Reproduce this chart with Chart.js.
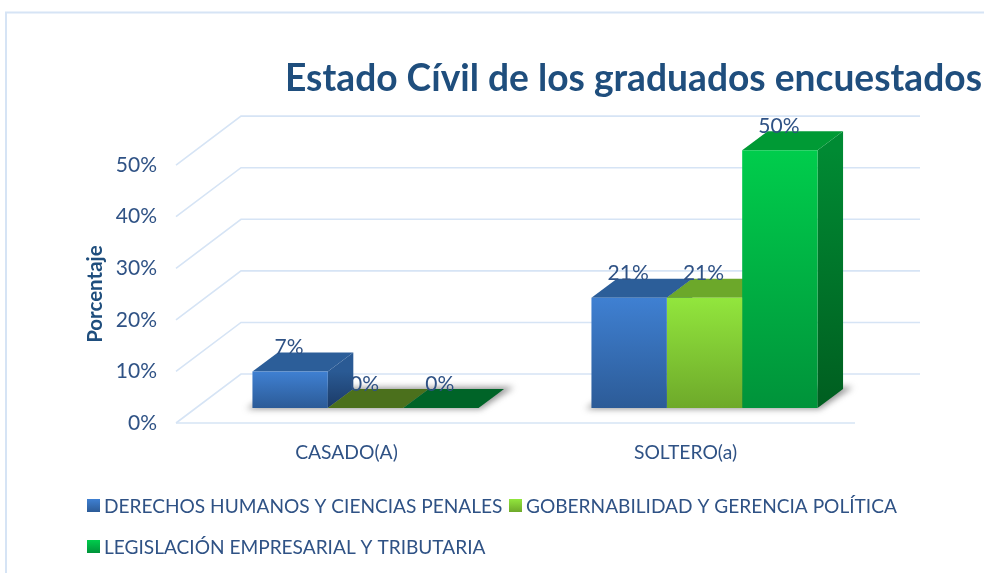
<!DOCTYPE html>
<html><head><meta charset="utf-8">
<style>html,body{margin:0;padding:0;background:#fff}canvas{display:block}</style>
<script src="https://cdn.jsdelivr.net/npm/chart.js@4/dist/chart.umd.min.js"></script>
</head><body><canvas id="c" width="984" height="573"></canvas>
<script>
const categories = ["CASADO(A)", "SOLTERO(a)"];
const seriesNames = ["DERECHOS HUMANOS Y CIENCIAS PENALES", "GOBERNABILIDAD Y GERENCIA POLÍTICA", "LEGISLACIÓN EMPRESARIAL Y TRIBUTARIA"];
const derechos = [7.1, 21.4];
const gobernabilidad = [0, 21.4];
const legislacion = [0, 50];
const titleText = "Estado Cívil de los graduados encuestados";
const yTitle = "Porcentaje";

const palette = [
  {front:["#3f80d2","#2c5b97"], top:"#2c5e99", side:["#2a5a94","#1b3a66"], flat:"#2c5e99"},
  {front:["#92e63d","#6ea92a"], top:"#6ca82a", side:["#5f9425","#47701c"], flat:"#4b701c"},
  {front:["#00cd4c","#00933a"], top:"#009a35", side:["#008a33","#005e20"], flat:"#006428"}
];
const TEXT = "#2f5285", LINE = "#d6e4f5";
const DEPTH = {x:25.5, y:-19};           // bar depth
const SHIFT = {x:19, y:-15};             // bars sit inside the floor
const WALL = {x:64, y:-49, right:65};    // back wall offset
const FONT = "Lato, 'Open Sans', sans-serif";

function grad(c, y0, y1, cols){
  const g = c.createLinearGradient(0,y0,0,y1);
  g.addColorStop(0,cols[0]); g.addColorStop(1,cols[1]); return g;
}
function poly(c, pts, fill){
  c.beginPath(); pts.forEach((p,i)=> i? c.lineTo(p[0],p[1]) : c.moveTo(p[0],p[1])); c.closePath();
  c.fillStyle = fill; c.fill();
}

const scene = {
  id:"scene",
  afterLayout(chart){
    if(chart.titleBlock){ chart.titleBlock.left = 285; chart.titleBlock.right = 982; }
  },
  beforeDatasetsDraw(chart){
    const c = chart.ctx, y = chart.scales.y, a = chart.chartArea;
    // frame
    c.save();
    c.strokeStyle = LINE; c.lineWidth = 2;
    c.beginPath(); c.moveTo(6,573); c.lineTo(6,12.5); c.lineTo(984,12.5); c.stroke();
    // wall + floor gridlines
    c.lineWidth = 1.6;
    y.ticks.forEach(t=>{
      const p = y.getPixelForValue(t.value);
      c.beginPath(); c.moveTo(a.left-1,p); c.lineTo(a.left+WALL.x,p+WALL.y); c.lineTo(a.right+WALL.right,p+WALL.y); c.stroke();
    });
    const p0 = y.getPixelForValue(0);
    c.beginPath(); c.moveTo(a.left-1,p0); c.lineTo(a.right,p0); c.stroke();
    // floor shadows
    const metas = chart.data.datasets.map((d,i)=>chart.getDatasetMeta(i));
    const base = p0+SHIFT.y;
    categories.forEach((_,k)=>{
      const L = metas[0].data[k].x - metas[0].data[k].width/2 + SHIFT.x;
      const R = metas[2].data[k].x + metas[2].data[k].width/2 + SHIFT.x;
      c.save(); c.filter = "blur(3px)";
      poly(c,[[L-6,base+1],[L+DEPTH.x,base+DEPTH.y-1],[R+DEPTH.x+10,base+DEPTH.y-2],[R+2,base+1]],"rgba(90,90,90,.65)");
      c.restore();
    });
    // depth faces of the bars
    metas.forEach((m,i)=>{
      m.data.forEach(b=>{
        const l=b.x-b.width/2+SHIFT.x, r=b.x+b.width/2+SHIFT.x, t=b.y+SHIFT.y, bt=b.base+SHIFT.y;
        const flat = bt-t < 1;
        if(!flat) poly(c,[[r,t],[r+DEPTH.x,t+DEPTH.y],[r+DEPTH.x,bt+DEPTH.y],[r,bt]],grad(c,t,bt,palette[i].side));
        poly(c,[[l,t],[l+DEPTH.x,t+DEPTH.y],[r+DEPTH.x,t+DEPTH.y],[r,t]], flat?palette[i].flat:palette[i].top);
      });
    });
    c.restore();
    c.save(); c.translate(SHIFT.x,SHIFT.y);
  },
  afterDatasetsDraw(chart){
    const c = chart.ctx; c.restore();
    // value labels
    c.save();
    c.font = "21px "+FONT; c.fillStyle = TEXT; c.textAlign="center"; c.textBaseline="middle";
    chart.data.datasets.forEach((d,i)=>{
      chart.getDatasetMeta(i).data.forEach((b,k)=>{
        c.fillText(Math.round(d.data[k])+"%", b.x+SHIFT.x-1, b.y+SHIFT.y-24);
      });
    });
    // legend
    const items = [[87,506,104],[509,506,526],[87,547,104]];
    c.textAlign="left"; c.font = "19.1px "+FONT;
    items.forEach((it,i)=>{
      c.fillStyle = grad(c,it[1]-7,it[1]+6,palette[i].front);
      c.fillRect(it[0],it[1]-7,13,13);
      c.fillStyle = TEXT;
      c.fillText(chart.data.datasets[i].label,it[2],it[1]+1);
    });
    c.restore();
  }
};

function fillFor(i){
  return ctx=>{
    const ch = ctx.chart, y = ch.scales.y;
    if(!y || !ctx.parsed) return palette[i].front[0];
    const y0 = y.getPixelForValue(ctx.parsed.y), y1 = y.getPixelForValue(0);
    if(!isFinite(y0) || !isFinite(y1)) return palette[i].front[0];
    return grad(ch.ctx, y0, y1, palette[i].front);
  };
}
const values = [derechos, gobernabilidad, legislacion];

new Chart(document.getElementById("c"),{
  type:"bar",
  data:{labels:categories, datasets:seriesNames.map((n,i)=>({
    label:n, data:values[i], backgroundColor:fillFor(i), borderWidth:0, clip:false,
    categoryPercentage:0.667, barPercentage:1
  }))},
  options:{
    responsive:false, animation:false, devicePixelRatio:1,
    layout:{padding:{left:0,right:129,top:57,bottom:0}},
    plugins:{
      legend:{display:false}, tooltip:{enabled:false},
      title:{display:true,text:titleText,align:"center",color:"#1f4e7d",
        font:{family:FONT,size:37.2,weight:"bold",lineHeight:1.16},padding:{top:0,bottom:65}}
    },
    scales:{
      x:{grid:{display:false},border:{display:false},
        ticks:{color:TEXT,font:{family:FONT,size:19.3},padding:10,maxRotation:0},
        afterFit(s){s.height=150;}},
      y:{min:0,max:50,grid:{display:false},border:{display:false},
        ticks:{stepSize:10,color:TEXT,font:{family:FONT,size:21},padding:12,callback:v=>v+"%"},
        title:{display:true,text:yTitle,color:"#1f4e7d",font:{family:FONT,size:20.5,weight:"bold"},padding:{top:83,bottom:0}},
        afterFit(s){s.width=177;}}
    }
  },
  plugins:[scene]
});
</script></body></html>
